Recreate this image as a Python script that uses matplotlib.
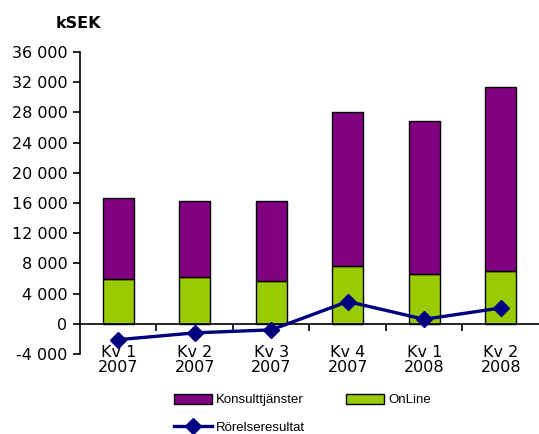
import matplotlib.pyplot as plt
from matplotlib.ticker import FuncFormatter, FixedLocator
import numpy as np

# data (kSEK)
quarters = ["Kv 1\n2007", "Kv 2\n2007", "Kv 3\n2007", "Kv 4\n2007", "Kv 1\n2008", "Kv 2\n2008"]
online = [6000, 6200, 5650, 7600, 6600, 7000]
konsult = [10700, 10100, 10650, 20400, 20200, 24300]
rorelse = [-2100, -1200, -800, 2950, 600, 2100]

purple = "#800080"
green = "#99CC00"
navy = "#000080"

fig = plt.figure(figsize=(5.39, 4.34), dpi=100)
ax = fig.add_axes([0.1484, 0.1843, 0.8516, 0.6959])

x = np.arange(len(quarters))
b_on = ax.bar(x, online, width=0.4, color=green, edgecolor="black", linewidth=1.0, zorder=2)
b_ko = ax.bar(x, konsult, width=0.4, bottom=online, color=purple, edgecolor="black", linewidth=1.0, zorder=2)
ln, = ax.plot(x, rorelse, color=navy, linewidth=2.4, marker="D", markersize=8.5, zorder=3)

ax.set_xlim(-0.5, len(quarters) - 0.5)
ax.set_ylim(-4000, 36000)
ax.set_yticks(np.arange(-4000, 36001, 4000))
ax.yaxis.set_major_formatter(FuncFormatter(lambda v, p: f"{int(v):,}".replace(",", " ")))

# category axis crosses at zero, like Excel
ax.spines["bottom"].set_position(("data", 0))
ax.spines["top"].set_visible(False)
ax.spines["right"].set_visible(False)
ax.spines["left"].set_linewidth(1.2)
ax.spines["bottom"].set_linewidth(1.2)

ax.set_xticks(x)
ax.set_xticklabels(quarters, linespacing=1.05)
ax.xaxis.set_minor_locator(FixedLocator(np.arange(0.5, len(quarters) - 0.5, 1)))
ax.tick_params(axis="x", which="major", length=0, pad=15, labelsize=11.5)
ax.tick_params(axis="x", which="minor", length=5, width=1.2, direction="out")
ax.tick_params(axis="y", length=5, width=1.2, direction="out", labelsize=11.5, pad=4)

fig.text(0.104, 0.945, "kSEK", fontsize=11.5, fontweight="bold", ha="left", va="center")

# column-wise fill: Konsulttjänster, Rörelseresultat | OnLine
fig.legend([b_ko, ln, b_on], ["Konsulttjänster", "Rörelseresultat", "OnLine"], ncol=2,
           loc="upper left", bbox_to_anchor=(0.322, 0.093), frameon=False,
           prop={"family": "Liberation Sans", "size": 9.5}, handlelength=2.9,
           handleheight=0.8, handletextpad=0.3, columnspacing=3.1,
           labelspacing=1.15, borderpad=0, borderaxespad=0)

fig.savefig("out.png", dpi=100)
